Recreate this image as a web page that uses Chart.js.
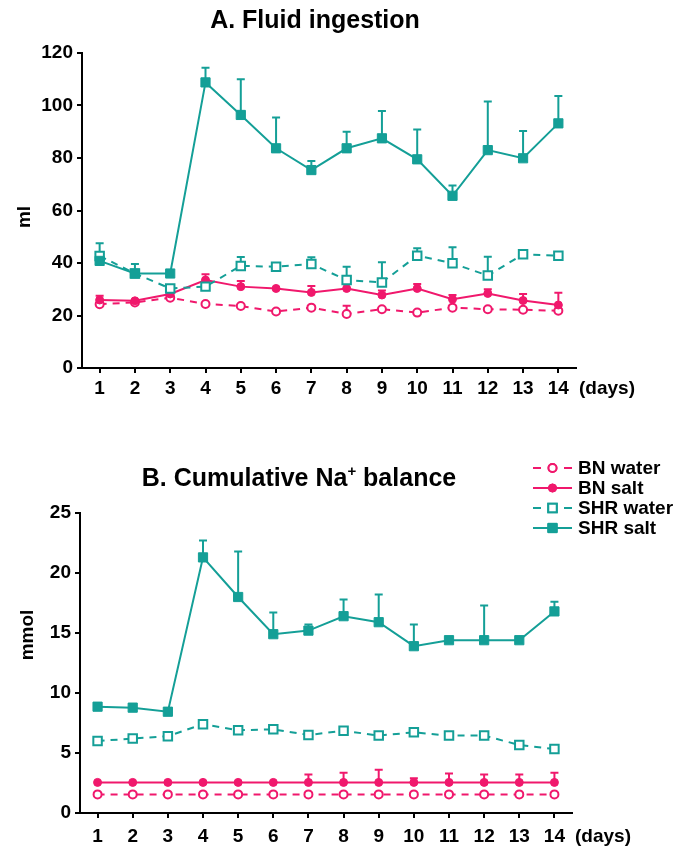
<!DOCTYPE html>
<html>
<head>
<meta charset="utf-8">
<script src="https://cdn.jsdelivr.net/npm/chart.js@4.4.1/dist/chart.umd.min.js"></script>
<style>
  body { margin: 0; background: #fff; }
  #wrap { position: relative; width: 678px; height: 850px; }
  canvas { position: absolute; left: 0; }
  #chartA { top: 0; }
  #chartB { top: 420px; }
</style>
</head>
<body>
<div id="wrap">
  <canvas id="chartA" width="678" height="420"></canvas>
  <canvas id="chartB" width="678" height="430"></canvas>
</div>
<script>
const days = ['1', '2', '3', '4', '5', '6', '7', '8', '9', '10', '11', '12', '13', '14'];

// A. Fluid ingestion (ml) - mean and top of error bar
const bnWaterA = [24.3, 25.0, 26.8, 24.4, 23.6, 21.5, 23.0, 20.6, 22.4, 21.1, 23.0, 22.4, 22.2, 21.8];
const bnWaterATop = [null, null, null, null, null, null, null, 23.7, null, null, null, null, null, null];
const bnSaltA = [25.9, 25.6, 28.2, 33.5, 31.0, 30.3, 28.8, 30.3, 27.8, 30.3, 26.2, 28.4, 25.7, 24.0];
const bnSaltATop = [27.5, null, null, 35.7, 33.1, null, 31.2, null, 29.5, 32.0, 27.8, 30.0, 28.2, 28.7];
const shrWaterA = [42.7, 36.0, 30.3, 31.0, 38.9, 38.6, 39.6, 33.5, 32.6, 42.8, 39.9, 35.2, 43.3, 42.8];
const shrWaterATop = [47.5, 39.6, null, null, 42.3, null, 42.2, 38.6, 40.3, 45.6, 46.0, 42.4, 45.0, null];
const shrSaltA = [40.8, 36.0, 36.0, 108.8, 96.4, 83.7, 75.4, 83.7, 87.5, 79.5, 65.6, 83.0, 79.9, 93.2];
const shrSaltATop = [null, null, null, 114.4, 110.0, 95.4, 78.9, 90.0, 97.9, 90.9, 69.5, 101.5, 90.3, 103.6];

// B. Cumulative Na+ balance (mmol)
const bnWaterB = [1.55, 1.55, 1.55, 1.55, 1.55, 1.55, 1.55, 1.55, 1.55, 1.55, 1.55, 1.55, 1.55, 1.55];
const bnWaterBTop = [null, null, null, null, null, null, null, null, null, null, null, null, null, null];
const bnSaltB = [2.55, 2.55, 2.55, 2.55, 2.55, 2.55, 2.55, 2.55, 2.55, 2.55, 2.55, 2.55, 2.55, 2.55];
const bnSaltBTop = [null, null, null, null, null, null, 3.2, 3.35, 3.6, 2.9, 3.3, 3.2, 3.2, 3.35];
const shrWaterB = [6.0, 6.2, 6.4, 7.4, 6.9, 6.97, 6.5, 6.86, 6.45, 6.72, 6.45, 6.45, 5.67, 5.33];
const shrWaterBTop = [null, null, null, null, null, null, null, null, null, null, null, null, null, null];
const shrSaltB = [8.86, 8.78, 8.44, 21.3, 18.0, 14.9, 15.2, 16.4, 15.9, 13.9, 14.4, 14.4, 14.4, 16.8];
const shrSaltBTop = [null, null, null, 22.7, 21.8, 16.7, 15.7, 17.8, 18.2, 15.7, null, 17.3, null, 17.6];

const yTicksA = [0, 20, 40, 60, 80, 100, 120];
const yTicksB = [0, 5, 10, 15, 20, 25];

const seriesNames = ['BN water', 'BN salt', 'SHR water', 'SHR salt'];

const PINK = '#f0186c';
const TEAL = '#149f97';
const FONT = '"Liberation Sans", Arial, sans-serif';

const styles = [
  { color: PINK, dash: [7, 6], point: 'circle', radius: 4, fill: '#fff', bw: 2 },
  { color: PINK, dash: [], point: 'circle', radius: 4, fill: PINK, bw: 1 },
  { color: TEAL, dash: [7, 6], point: 'rect', radius: 6, fill: '#fff', bw: 2 },
  { color: TEAL, dash: [], point: 'rect', radius: 6.5, fill: TEAL, bw: 1 }
];

function makeDatasets(values, tops) {
  return values.map((v, i) => ({
    label: seriesNames[i],
    data: v,
    errTop: tops[i],
    borderColor: styles[i].color,
    borderWidth: 2,
    borderDash: styles[i].dash,
    pointStyle: styles[i].point,
    pointRadius: styles[i].radius,
    pointBackgroundColor: styles[i].fill,
    pointBorderColor: styles[i].color,
    pointBorderWidth: styles[i].bw,
    tension: 0,
    fill: false
  })).reverse();
}

const extras = {
  id: 'extras',
  beforeDatasetsDraw(chart) {
    const ctx = chart.ctx;
    const x = chart.scales.x, y = chart.scales.y;
    ctx.save();
    chart.data.datasets.forEach(ds => {
      ctx.strokeStyle = ds.borderColor;
      ctx.lineWidth = 2;
      ds.errTop.forEach((t, i) => {
        if (t === null) return;
        const px = x.getPixelForValue(i);
        const py = y.getPixelForValue(ds.data[i]);
        const pt = y.getPixelForValue(t);
        ctx.beginPath();
        ctx.moveTo(px, py);
        ctx.lineTo(px, pt);
        ctx.moveTo(px - 4, pt);
        ctx.lineTo(px + 4, pt);
        ctx.stroke();
      });
    });
    ctx.restore();
  },
  afterDraw(chart, args, opts) {
    const ctx = chart.ctx;
    const x = chart.scales.x;
    ctx.save();
    ctx.fillStyle = '#000';
    // title
    ctx.font = 'bold 25px ' + FONT;
    ctx.textBaseline = 'middle';
    ctx.textAlign = 'center';
    if (opts.sup) {
      const w1 = ctx.measureText(opts.title).width;
      const w2 = ctx.measureText(opts.title2).width;
      ctx.font = 'bold 15px ' + FONT;
      const ws = ctx.measureText('+').width;
      const start = opts.titleX - (w1 + ws + w2) / 2;
      ctx.textAlign = 'left';
      ctx.font = 'bold 25px ' + FONT;
      ctx.fillText(opts.title, start, opts.titleY);
      ctx.font = 'bold 15px ' + FONT;
      ctx.fillText('+', start + w1, opts.titleY - 7);
      ctx.font = 'bold 25px ' + FONT;
      ctx.fillText(opts.title2, start + w1 + ws, opts.titleY);
    } else {
      ctx.fillText(opts.title, opts.titleX, opts.titleY);
    }
    // y axis title
    ctx.font = 'bold 19px ' + FONT;
    ctx.save();
    ctx.translate(opts.yTitleX, opts.yTitleY);
    ctx.rotate(-Math.PI / 2);
    ctx.textAlign = 'center';
    ctx.fillText(opts.yTitle, 0, 0);
    ctx.restore();
    // (days)
    ctx.textAlign = 'left';
    ctx.fillText('(days)', x.right + 3, opts.daysY);
    // legend
    if (opts.legend) {
      const lg = opts.legend;
      styles.forEach((s, i) => {
        const cy = lg.y + i * 20;
        ctx.strokeStyle = s.color;
        ctx.lineWidth = 2;
        ctx.beginPath();
        if (s.dash.length) {
          ctx.moveTo(lg.x, cy); ctx.lineTo(lg.x + 8, cy);
          ctx.moveTo(lg.x + 31, cy); ctx.lineTo(lg.x + 39, cy);
        } else {
          ctx.moveTo(lg.x, cy); ctx.lineTo(lg.x + 39, cy);
        }
        ctx.stroke();
        ctx.fillStyle = s.fill;
        ctx.lineWidth = s.bw;
        Chart.helpers.drawPoint(ctx, { pointStyle: s.point, radius: s.radius, borderWidth: s.bw }, lg.x + 19.5, cy);
        ctx.fill();
        ctx.stroke();
        ctx.fillStyle = '#000';
        ctx.font = 'bold 19px ' + FONT;
        ctx.fillText(seriesNames[i], lg.x + 45, cy + 1);
      });
    }
    ctx.restore();
  }
};

function makeChart(id, values, tops, yMax, yStep, yTicks, pad, yWidth, tickPad, extraOpts) {
  return new Chart(document.getElementById(id), {
    type: 'line',
    data: { labels: days, datasets: makeDatasets(values, tops) },
    options: {
      responsive: false,
      animation: false,
      layout: { padding: pad },
      plugins: {
        legend: { display: false },
        tooltip: { enabled: false },
        extras: extraOpts
      },
      scales: {
        x: {
          type: 'category',
          offset: true,
          grid: { drawOnChartArea: false, offset: false, tickLength: 5, color: '#000', lineWidth: 2 },
          border: { color: '#000', width: 2 },
          ticks: { color: '#000', font: { family: FONT, size: 19, weight: 'bold' }, padding: tickPad, maxRotation: 0, autoSkip: false },
          afterFit(scale) { scale.height = 30; }
        },
        y: {
          min: 0,
          max: yMax,
          grid: { drawOnChartArea: false, tickLength: 5, color: '#000', lineWidth: 2 },
          border: { color: '#000', width: 2 },
          ticks: { color: '#000', stepSize: yStep, font: { family: FONT, size: 19, weight: 'bold' }, padding: 4 },
          afterBuildTicks(scale) { scale.ticks = yTicks.map(v => ({ value: v })); },
          afterFit(scale) { scale.width = yWidth; }
        }
      }
    },
    plugins: [extras]
  });
}

makeChart('chartA',
  [bnWaterA, bnSaltA, shrWaterA, shrSaltA],
  [bnWaterATop, bnSaltATop, shrWaterATop, shrSaltATop],
  120, 20, yTicksA,
  { left: 0, right: 102, top: 53, bottom: 22 }, 82, 4,
  { title: 'A. Fluid ingestion', titleX: 315, titleY: 21, yTitle: 'ml', yTitleX: 25, yTitleY: 217, daysY: 389 });

makeChart('chartB',
  [bnWaterB, bnSaltB, shrWaterB, shrSaltB],
  [bnWaterBTop, bnSaltBTop, shrWaterBTop, shrSaltBTop],
  25, 5, yTicksB,
  { left: 0, right: 106, top: 93, bottom: 7 }, 80, 7,
  { sup: true, title: 'B. Cumulative Na', title2: ' balance', titleX: 299, titleY: 59, yTitle: 'mmol', yTitleX: 28, yTitleY: 215, daysY: 417,
    legend: { x: 533, y: 48 } });
</script>
</body>
</html>
